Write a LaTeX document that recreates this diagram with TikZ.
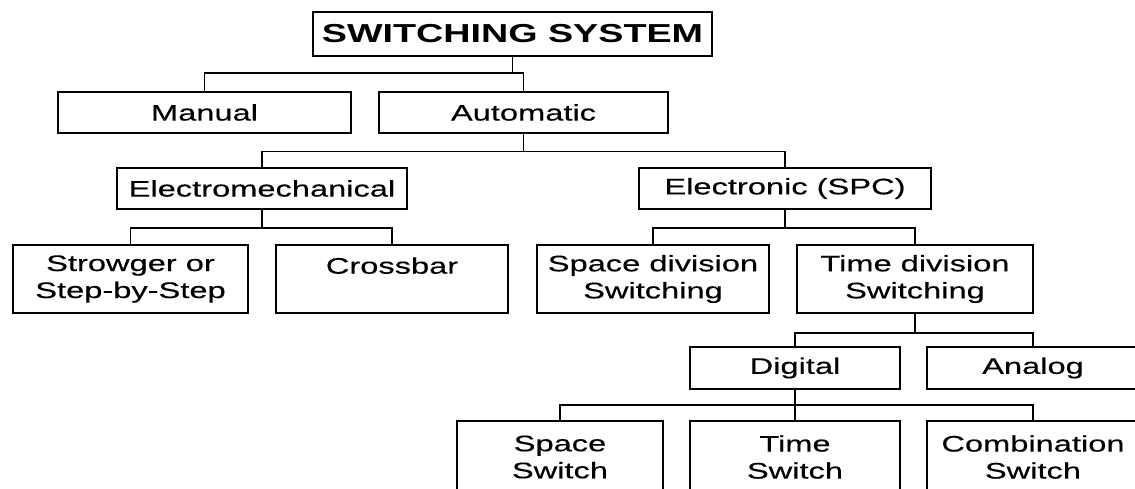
\documentclass[tikz,border=0pt]{standalone}
\usepackage{fontspec}
\usetikzlibrary{calc}
\setmainfont{Liberation Sans}[FakeStretch=1.45,UprightFeatures={FakeBold=0.3}]
\begin{document}
\begin{tikzpicture}[x=1pt,y=-1pt,
  box/.style={draw, line width=1.8pt, inner sep=0pt, align=center,
    font=\fontsize{22.5}{27}\selectfont},
  one/.style={box, minimum height=41pt},
  two/.style={box, minimum height=68pt},
  low/.style={box, minimum height=72pt},
  link/.style={line width=1.8pt}]
\useasboundingbox (0,0) rectangle (1135,488);
\clip (0,0) rectangle (1135,488);
% nodes
\node[box, minimum width=399pt, minimum height=44pt,
  font=\fontsize{26}{30}\selectfont\bfseries] (root) at (512.5,34) {SWITCHING SYSTEM};
\node[one, minimum width=293pt] (manual) at (204.5,112.5) {Manual};
\node[one, minimum width=289pt] (auto) at (523.5,112.5) {Automatic};
\node[one, minimum width=290pt] (emech) at (262,188.5) {Electromechanical};
\node[one, minimum width=292pt] (elec) at (785,188.5) {Electronic (SPC)};
\node[two, minimum width=235pt] (strow) at (130.5,279) {Strowger or\\Step-by-Step};
\node[two, minimum width=232pt] (cross) at (392,279) {Crossbar\\\mbox{}};
\node[two, minimum width=232pt] (spdiv) at (653,279) {Space division\\Switching};
\node[two, minimum width=236pt] (tdiv) at (915,279) {Time division\\Switching};
\node[one, minimum width=210pt, minimum height=42pt] (digital) at (795,368) {Digital};
\node[one, minimum width=212pt, minimum height=42pt] (analog) at (1033,368) {Analog};
\node[low, minimum width=206pt] (spsw) at (560,457) {Space\\Switch};
\node[low, minimum width=210pt] (tsw) at (795,457) {Time\\Switch};
\node[low, minimum width=212pt] (csw) at (1033,457) {Combination\\Switch};
% connectors
\draw[link] (root.south) -- ++(0,16) coordinate (b1);
\draw[link] (manual.north) |- (b1) -| (auto.north);
\draw[link] (auto.south) -- ++(0,17.5) coordinate (b2);
\draw[link] (emech.north) |- (b2) -| (elec.north);
\draw[link] (emech.south) -- ++(0,18) coordinate (b3);
\draw[link] (strow.north) |- (b3) -| (cross.north);
\draw[link] (elec.south) -- ++(0,18) coordinate (b4);
\draw[link] (spdiv.north) |- (b4) -| (tdiv.north);
\draw[link] (tdiv.south) -- ++(0,19) coordinate (b5);
\draw[link] (digital.north) |- (b5) -| (analog.north);
\coordinate (b6) at ($(digital.south)!0.5!(tsw.north)$);
\draw[link] (digital.south) -- (tsw.north);
\draw[link] (spsw.north) |- (b6) -| (csw.north);
\end{tikzpicture}
\end{document}
